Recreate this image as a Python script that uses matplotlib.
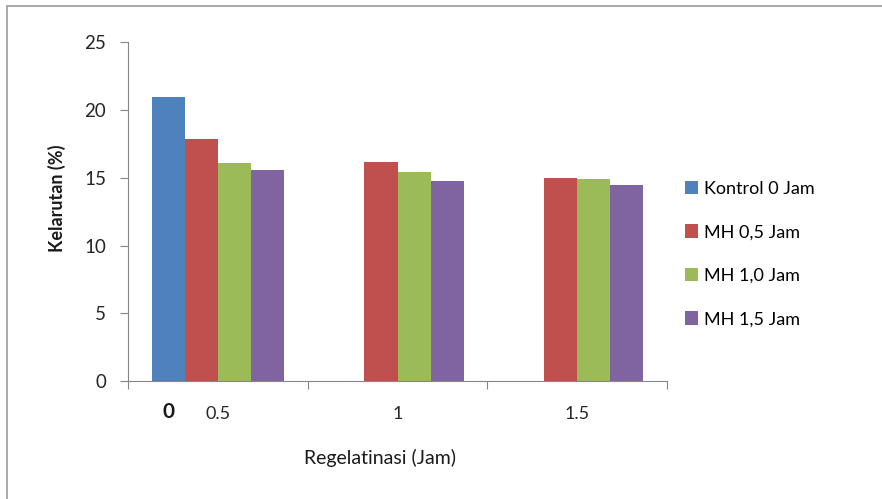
import numpy as np
import matplotlib.pyplot as plt
from matplotlib.patches import Rectangle

plt.rcParams['font.family'] = ['Lato', 'DejaVu Sans']

# Kelarutan (%) per lama regelatinasi
kategori = ["0.5", "1", "1.5"]
seri = ["Kontrol 0 Jam", "MH 0,5 Jam", "MH 1,0 Jam", "MH 1,5 Jam"]
kontrol = [21.0, np.nan, np.nan]
mh_05 = [17.9, 16.2, 15.0]
mh_10 = [16.1, 15.4, 14.9]
mh_15 = [15.6, 14.8, 14.5]
warna = ["#4F81BD", "#C0504D", "#9BBB59", "#8064A2"]

fig = plt.figure(figsize=(8.82, 4.99), dpi=100)
ax = fig.add_axes([0.1455, 0.2359, 0.6104, 0.6793])

# garis tepi gambar (kiri & atas)
fig.patches.append(Rectangle((7 / 882, -0.1), 1.2, 1 - 6 / 499 + 0.1,
                             transform=fig.transFigure, fill=False,
                             edgecolor="#9a9a9a", linewidth=1.2))

x = np.arange(len(kategori))
lebar = 0.184
for i, (nilai, nama) in enumerate(zip([kontrol, mh_05, mh_10, mh_15], seri)):
    ax.bar(x + (i - 1.5) * lebar, nilai, width=lebar, color=warna[i], label=nama)

ax.set_xlim(-0.5, 2.5)
ax.set_ylim(0, 25)
ax.set_yticks(np.arange(0, 26, 5))

# tick x di batas kategori, label di tengah
ax.set_xticks(np.arange(-0.5, 3, 1))
ax.set_xticklabels([])
ax.set_xticks(x, minor=True)
ax.set_xticklabels(kategori, minor=True)
ax.tick_params(axis="x", which="minor", length=0, pad=18, labelsize=13, labelcolor="#262626")
ax.tick_params(axis="x", which="major", length=6, color="#868686")
ax.tick_params(axis="y", length=6, color="#868686", labelsize=13.5, labelcolor="#262626", pad=10)

for s in ["top", "right"]:
    ax.spines[s].set_visible(False)
for s in ["left", "bottom"]:
    ax.spines[s].set_color("#868686")

# label "0" untuk kontrol
ax.text(x[0] - 1.5 * lebar, -2.3, "0", ha="center", va="center",
        fontsize=15, fontweight="bold", color="#1a1a1a")

fig.text(0.431, 0.082, "Regelatinasi (Jam)", ha="center", va="center",
         fontsize=14, color="#1a1a1a")
fig.text(0.065, 0.603, "Kelarutan (%)", ha="center", va="center",
         rotation=90, fontsize=13, fontweight="bold", color="#1a1a1a")

ax.legend(loc="upper left", bbox_to_anchor=(0.768, 0.652), bbox_transform=fig.transFigure,
          frameon=False, fontsize=13, handlelength=0.75, handleheight=0.75,
          handletextpad=0.3, labelspacing=1.52, borderaxespad=0)

fig.savefig("out.png", dpi=100)
